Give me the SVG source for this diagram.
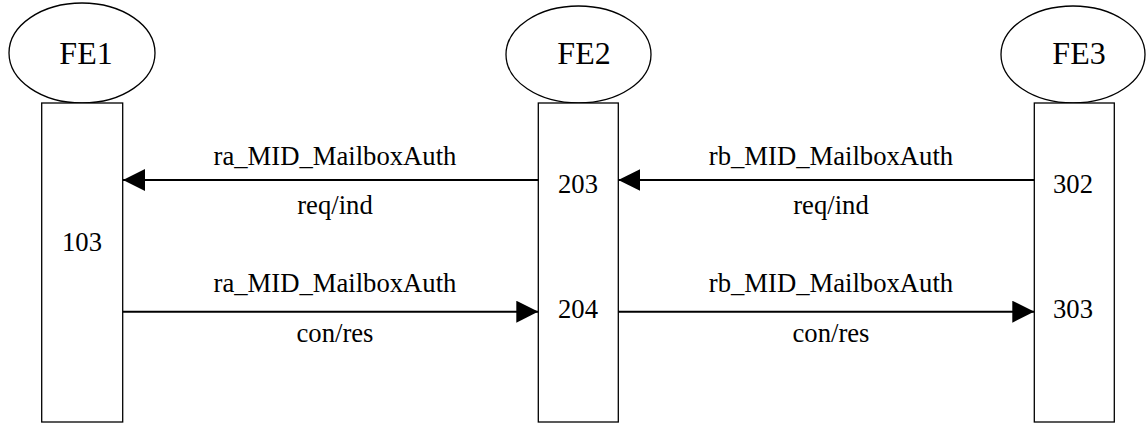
<svg xmlns="http://www.w3.org/2000/svg" width="1148" height="423" viewBox="0 0 1148 423">
<style>
.sh{fill:#fff;stroke:#000;stroke-width:1.3}
.t{font-size:26.67px;fill:#000;text-anchor:middle}
.h{font-size:32px}
.c{stroke:#000;stroke-width:2;fill:none}
</style>
<defs>
<marker id="ah" markerUnits="userSpaceOnUse" markerWidth="22" markerHeight="22" refX="22" refY="11" orient="auto">
<path d="M0,0 L22,11 L0,22 Z" fill="#000"/>
</marker>
</defs>
<rect width="1148" height="423" fill="#fff"/>
<g font-family="'Liberation Serif', 'Times New Roman', Tinos, 'DejaVu Serif', serif">
<g id="FE1">
<ellipse class="sh" cx="82" cy="53" rx="73" ry="50"/>
<text class="t h" x="86" y="64">FE1</text>
<rect class="sh" x="41.7" y="103" width="81" height="319"/>
<text class="t" x="82" y="251">103</text>
</g>
<g id="FE2">
<ellipse class="sh" cx="578.5" cy="54.5" rx="72.5" ry="48.5"/>
<text class="t h" x="584" y="64">FE2</text>
<rect class="sh" x="538.3" y="103" width="80" height="319"/>
<text class="t" x="578" y="193">203</text>
<text class="t" x="578" y="318">204</text>
</g>
<g id="FE3">
<ellipse class="sh" cx="1073" cy="54.5" rx="72" ry="48.5"/>
<text class="t h" x="1079" y="64">FE3</text>
<rect class="sh" x="1034.3" y="103" width="80" height="319"/>
<text class="t" x="1073" y="193">302</text>
<text class="t" x="1073" y="318">303</text>
</g>
<g id="connectors">
<line class="c" x1="538.3" y1="180" x2="123" y2="180" marker-end="url(#ah)"/>
<line class="c" x1="123" y1="311.7" x2="538.3" y2="311.7" marker-end="url(#ah)"/>
<line class="c" x1="1034.3" y1="180" x2="618.3" y2="180" marker-end="url(#ah)"/>
<line class="c" x1="618.3" y1="311.7" x2="1034.3" y2="311.7" marker-end="url(#ah)"/>
<text class="t" x="335" y="165">ra_MID_MailboxAuth</text>
<text class="t" x="335" y="214">req/ind</text>
<text class="t" x="335" y="292">ra_MID_MailboxAuth</text>
<text class="t" x="335" y="342">con/res</text>
<text class="t" x="831" y="165">rb_MID_MailboxAuth</text>
<text class="t" x="831" y="214">req/ind</text>
<text class="t" x="831" y="292">rb_MID_MailboxAuth</text>
<text class="t" x="831" y="342">con/res</text>
</g>
</g>
</svg>
